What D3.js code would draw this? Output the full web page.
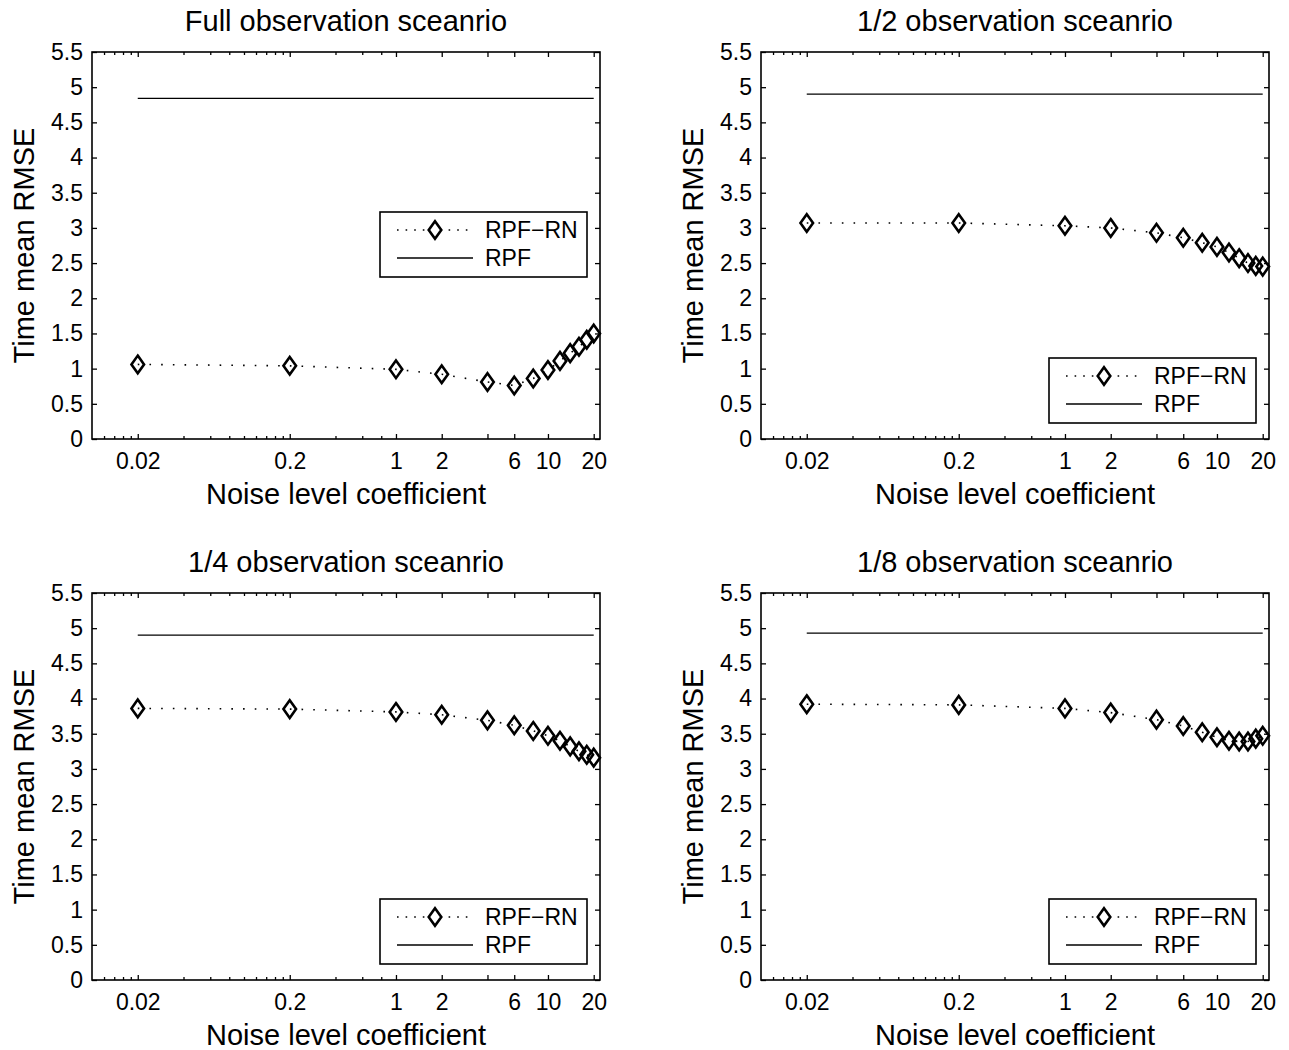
<!DOCTYPE html>
<html>
<head>
<meta charset="utf-8">
<script src="https://cdn.jsdelivr.net/npm/d3@7"></script>
<style>
  html, body { margin: 0; padding: 0; background: #fff; }
  svg { display: block; }
  text { font-family: "Liberation Sans", Arial, Helvetica, sans-serif; fill: #000; }
</style>
</head>
<body>
<svg id="chart" width="1289" height="1050"></svg>
<script>
// ---------------- data ----------------
const noiseLevels = [0.02, 0.2, 1, 2, 4, 6, 8, 10, 12, 14, 16, 18, 20];

const rpfRnFull    = [1.06, 1.04, 0.99, 0.92, 0.81, 0.76, 0.86, 0.98, 1.11, 1.22, 1.31, 1.41, 1.50];
const rpfRnHalf    = [3.07, 3.07, 3.03, 3.00, 2.93, 2.86, 2.79, 2.73, 2.65, 2.57, 2.50, 2.46, 2.45];
const rpfRnQuarter = [3.86, 3.85, 3.81, 3.77, 3.69, 3.62, 3.54, 3.47, 3.40, 3.32, 3.25, 3.20, 3.16];
const rpfRnEighth  = [3.92, 3.91, 3.86, 3.80, 3.70, 3.61, 3.52, 3.45, 3.40, 3.39, 3.39, 3.43, 3.47];

const rpfValues = [4.84, 4.90, 4.90, 4.93];

const panelTitles = ["Full observation sceanrio", "1/2 observation sceanrio",
                     "1/4 observation sceanrio", "1/8 observation sceanrio"];
const rnSeries = [rpfRnFull, rpfRnHalf, rpfRnQuarter, rpfRnEighth];

const xMajorTicks  = [0.02, 0.2, 1, 2, 4, 6, 10, 20];
const xMajorLabels = ["0.02", "0.2", "1", "2", "", "6", "10", "20"];
const xMinorTicks  = [0.012, 0.014, 0.016, 0.018, 0.04, 0.06, 0.08, 0.1, 0.12, 0.14, 0.16, 0.18, 0.4, 0.6, 0.8];
const yTicks       = [0, 0.5, 1, 1.5, 2, 2.5, 3, 3.5, 4, 4.5, 5, 5.5];
const yTickLabels  = ["0", "0.5", "1", "1.5", "2", "2.5", "3", "3.5", "4", "4.5", "5", "5.5"];
const xDomain = [0.01, 22];
const yDomain = [0, 5.5];
const legendLabels = ["RPF\u2212RN", "RPF"];
const xAxisTitle = "Noise level coefficient";
const yAxisTitle = "Time mean RMSE";

// ---------------- layout ----------------
const svg = d3.select("#chart");
const panelW = 508, panelH = 387;
const origins = [[92, 52], [761, 52], [92, 593], [761, 593]];
const legendTopOffset = [160, 306, 306, 306];

const diamond = "M0,-8.8L6.3,0L0,8.8L-6.3,0Z";

origins.forEach(([L, T], i) => {
  const R = L + panelW, B = T + panelH;
  const x = d3.scaleLog().domain(xDomain).range([L, R]);
  const y = d3.scaleLinear().domain(yDomain).range([B, T]);
  const g = svg.append("g");

  // frame
  g.append("rect").attr("x", L).attr("y", T).attr("width", panelW).attr("height", panelH)
    .attr("fill", "none").attr("stroke", "#000").attr("stroke-width", 1.6);

  const styleAxis = sel => { sel.select(".domain").remove(); sel.selectAll("line").attr("stroke", "#000").attr("stroke-width", 1.3); };

  // bottom major ticks with labels
  g.append("g").attr("transform", `translate(0,${B})`)
    .call(d3.axisBottom(x).tickValues(xMajorTicks).tickSize(-5).tickPadding(14)
      .tickFormat((d, k) => xMajorLabels[k]))
    .call(styleAxis)
    .call(s => s.selectAll("text").attr("font-size", 23).attr("font-family", "Liberation Sans, Arial, sans-serif").attr("fill", "#000"));
  // bottom minor ticks
  g.append("g").attr("transform", `translate(0,${B})`)
    .call(d3.axisBottom(x).tickValues(xMinorTicks).tickSize(-3).tickFormat(""))
    .call(styleAxis);
  // top ticks (mirrored)
  g.append("g").attr("transform", `translate(0,${T})`)
    .call(d3.axisTop(x).tickValues(xMajorTicks).tickSize(-5).tickFormat(""))
    .call(styleAxis);
  g.append("g").attr("transform", `translate(0,${T})`)
    .call(d3.axisTop(x).tickValues(xMinorTicks).tickSize(-3).tickFormat(""))
    .call(styleAxis);
  // left y axis
  g.append("g").attr("transform", `translate(${L},0)`)
    .call(d3.axisLeft(y).tickValues(yTicks).tickSize(-5).tickPadding(9)
      .tickFormat((d, k) => yTickLabels[k]))
    .call(styleAxis)
    .call(s => s.selectAll("text").attr("font-size", 23).attr("font-family", "Liberation Sans, Arial, sans-serif").attr("fill", "#000"));
  // right y ticks
  g.append("g").attr("transform", `translate(${R},0)`)
    .call(d3.axisRight(y).tickValues(yTicks).tickSize(-5).tickFormat(""))
    .call(styleAxis);

  // title and axis labels
  g.append("text").attr("x", (L + R) / 2).attr("y", T - 21).attr("text-anchor", "middle")
    .attr("font-size", 29).text(panelTitles[i]);
  g.append("text").attr("x", (L + R) / 2).attr("y", B + 65).attr("text-anchor", "middle")
    .attr("font-size", 29).text(xAxisTitle);
  g.append("text").attr("transform", `translate(${L - 58},${(T + B) / 2}) rotate(-90)`)
    .attr("text-anchor", "middle").attr("font-size", 29).text(yAxisTitle);

  // RPF line
  const rpfData = [xMajorTicks[0], xMajorTicks[xMajorTicks.length - 1]].map(v => ({ x: v, y: rpfValues[i] }));
  g.append("path").datum(rpfData)
    .attr("d", d3.line().x(d => x(d.x)).y(d => y(d.y)))
    .attr("fill", "none").attr("stroke", "#000").attr("stroke-width", 1.3);

  // RPF-RN dotted line + diamonds
  const rn = noiseLevels.map((v, k) => ({ x: v, y: rnSeries[i][k] }));
  g.append("path").datum(rn)
    .attr("d", d3.line().x(d => x(d.x)).y(d => y(d.y)))
    .attr("fill", "none").attr("stroke", "#000").attr("stroke-width", 1.6)
    .attr("stroke-dasharray", "1.6,10.1");
  g.selectAll("path.mk").data(rn).enter().append("path").attr("class", "mk")
    .attr("d", diamond)
    .attr("transform", d => `translate(${x(d.x)},${y(d.y)})`)
    .attr("fill", "none").attr("stroke", "#000").attr("stroke-width", 2.6);

  // legend
  const lx = R - 13 - 207, ly = T + legendTopOffset[i];
  const lg = g.append("g");
  lg.append("rect").attr("x", lx).attr("y", ly).attr("width", 207).attr("height", 65)
    .attr("fill", "#fff").attr("stroke", "#000").attr("stroke-width", 1.6);
  const r1 = ly + 18, r2 = ly + 46;
  lg.append("line").attr("x1", lx + 17).attr("x2", lx + 93).attr("y1", r1).attr("y2", r1)
    .attr("stroke", "#000").attr("stroke-width", 1.6).attr("stroke-dasharray", "1.6,7");
  lg.append("path").attr("d", diamond).attr("transform", `translate(${lx + 55},${r1})`)
    .attr("fill", "#fff").attr("stroke", "#000").attr("stroke-width", 2.6);
  lg.append("line").attr("x1", lx + 17).attr("x2", lx + 93).attr("y1", r2).attr("y2", r2)
    .attr("stroke", "#000").attr("stroke-width", 1.3);
  lg.append("text").attr("x", lx + 105).attr("y", r1 + 8).attr("font-size", 23).text(legendLabels[0]);
  lg.append("text").attr("x", lx + 105).attr("y", r2 + 8).attr("font-size", 23).text(legendLabels[1]);
});
</script>
</body>
</html>
